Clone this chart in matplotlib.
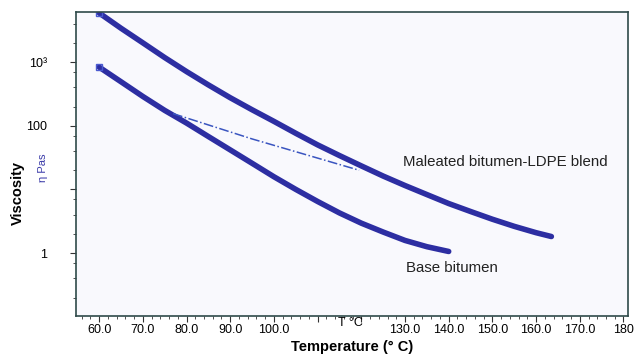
import matplotlib.pyplot as plt
import numpy as np
from matplotlib.ticker import FixedLocator, LogLocator, NullFormatter

# Maleated bitumen-LDPE blend
blend_t = [60, 65, 70, 75, 80, 85, 90, 95, 100, 105, 110, 115, 120, 125,
           130, 135, 140, 145, 150, 155, 160, 163.5]
blend_eta = [5890, 3390, 2000, 1175, 708, 437, 275, 178, 117, 76, 50, 34,
             23.4, 16.2, 11.5, 8.3, 6.0, 4.5, 3.4, 2.63, 2.09, 1.82]

# Base bitumen
base_t = [60, 65, 70, 75, 80, 85, 90, 95, 100, 105, 110, 115, 120, 125,
          130, 135, 140]
base_eta = [832, 490, 288, 174, 110, 67.6, 41.7, 25.7, 15.8, 10.0, 6.46,
            4.27, 2.95, 2.14, 1.58, 1.26, 1.06]

# dash-dot guide between the curves
guide_t = [76.9, 95.0, 119.5]
guide_eta = [155, 62, 20]

xticks = [60, 70, 80, 90, 100, 110, 120, 130, 140, 150, 160, 170, 180]
xlabels = ["60.0", "70.0", "80.0", "90.0", "100.0", "", "", "130.0",
           "140.0", "150.0", "160.0", "170.0", "180"]
yticks = [1, 10, 100, 1000]
ylabels = ["1", "", "100", "10³"]

font = "Liberation Sans"
line_c = "#2d2ea2"

fig = plt.figure(figsize=(6.35, 3.64), dpi=100)
ax = fig.add_axes([0.1197, 0.132, 0.869, 0.835])
ax.set_facecolor("#f9f9fd")

ax.plot(blend_t, blend_eta, color=line_c, lw=4, solid_capstyle="round",
        solid_joinstyle="round")
ax.plot(base_t, base_eta, color=line_c, lw=4, solid_capstyle="round",
        solid_joinstyle="round")
ax.plot(guide_t, guide_eta, color="#3a55c0", lw=1.1, ls="-.")
ax.plot(blend_t[0], blend_eta[0], "s", mfc="none", mec="#4a5ad0", ms=5, mew=1)
ax.plot(base_t[0], base_eta[0], "s", mfc="none", mec="#4a5ad0", ms=5, mew=1)

ax.set_yscale("log")
ax.set_xlim(54.7, 181)
ax.set_ylim(0.103, 6100)

ax.xaxis.set_major_locator(FixedLocator(xticks))
ax.set_xticklabels(xlabels, family=font, fontsize=9)
ax.xaxis.set_minor_locator(FixedLocator(np.arange(54, 181, 2)))
ax.yaxis.set_major_locator(FixedLocator(yticks))
ax.set_yticklabels(ylabels, family=font, fontsize=9)
ax.yaxis.set_minor_locator(LogLocator(subs=(2, 4, 7)))
ax.yaxis.set_minor_formatter(NullFormatter())

ax.tick_params(axis="x", which="major", length=4, pad=2, color="#333333")
ax.tick_params(axis="x", which="minor", length=2, color="#333333")
ax.tick_params(axis="y", which="major", length=4, pad=17, color="#333333")
ax.tick_params(axis="y", which="minor", length=2, color="#333333")

for s in ax.spines.values():
    s.set_color("#2f4a4a")
    s.set_linewidth(1.2)

ax.text(117.4, -0.004, "T °C", transform=ax.get_xaxis_transform(),
        ha="center", va="top", family=font, fontsize=9)

ax.set_xlabel("Temperature (° C)", fontsize=10.5, fontweight="bold",
              family=font, labelpad=3)
fig.text(0.028, 0.47, "Viscosity", rotation=90, ha="center", va="center",
         fontsize=10.5, fontweight="bold", family=font)
fig.text(0.068, 0.54, "η Pas", rotation=90, ha="center", va="center",
         fontsize=8, color="#3a3aa8", family=font)

ax.text(129.6, 27, "Maleated bitumen-LDPE blend", fontsize=10.8,
        family=font, va="center", ha="left", color="#222222")
ax.text(130.3, 0.58, "Base bitumen", fontsize=10.8,
        family=font, va="center", ha="left", color="#222222")

fig.savefig("out.png", dpi=100)
